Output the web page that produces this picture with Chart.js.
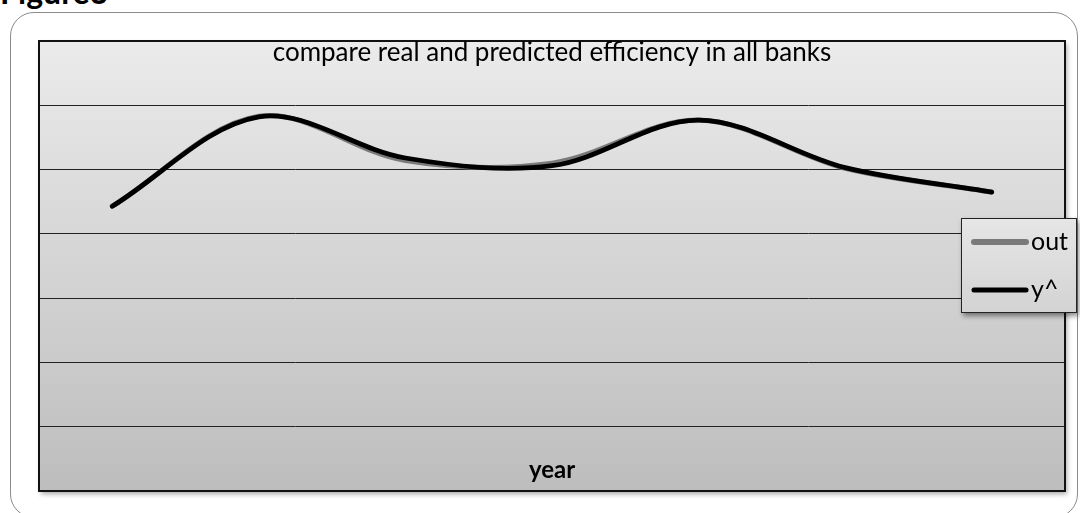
<!DOCTYPE html>
<html>
<head>
<meta charset="utf-8">
<script src="https://cdn.jsdelivr.net/npm/chart.js@4.4.1/dist/chart.umd.min.js"></script>
<style>
  html, body { margin: 0; padding: 0; background: #fff; }
  #wrap { position: relative; width: 1080px; height: 513px; overflow: hidden; }
  #frame {
    position: absolute; left: 10px; top: 12px; width: 1068px; height: 506px;
    border: 1px solid #8c8c8c; border-radius: 24px; box-sizing: border-box;
  }
  #figlabel {
    position: absolute; left: 0px; top: -24px; margin: 0;
    font: bold 32px/32px Lato, "Open Sans", sans-serif; color: #000;
  }
  canvas { position: absolute; left: 0; top: 0; }
</style>
</head>
<body>
<div id="wrap">
  <div id="frame"></div>
  <p id="figlabel">Figure3</p>
  <canvas id="chart" width="1080" height="513"></canvas>
</div>
<script>
// Seven yearly observations: real efficiency ("out") and model estimate ("y^")
const years = ['1', '2', '3', '4', '5', '6', '7'];
const outValues = [4.43, 5.83, 5.14, 5.10, 5.77, 5.02, 4.65];
const predValues = [4.43, 5.82, 5.18, 5.06, 5.77, 5.03, 4.65];
const seriesNames = ['out', 'y^'];
const chartTitle = 'compare real and predicted efficiency in all banks';
const axisTitle = 'year';

// Gradient plot background, frame and shadow behind the plot area
const plotFrame = {
  id: 'plotFrame',
  beforeDraw(chart) {
    const { ctx, chartArea: a } = chart;
    ctx.save();
    ctx.shadowColor = 'rgba(0,0,0,0.35)';
    ctx.shadowBlur = 5;
    ctx.shadowOffsetX = 2;
    ctx.shadowOffsetY = 3;
    const g = ctx.createLinearGradient(0, a.top, 0, a.bottom);
    g.addColorStop(0, '#ebebeb');
    g.addColorStop(1, '#bdbdbd');
    ctx.fillStyle = g;
    ctx.fillRect(a.left, a.top, a.right - a.left, a.bottom - a.top);
    ctx.restore();
  },
  afterDatasetsDraw(chart) {
    const { ctx, chartArea: a } = chart;
    ctx.save();
    ctx.strokeStyle = '#111';
    ctx.lineWidth = 2;
    ctx.strokeRect(a.left, a.top, a.right - a.left, a.bottom - a.top);
    ctx.restore();
  }
};

// Chart title and axis title placed inside the plot area
const innerTexts = {
  id: 'innerTexts',
  afterDraw(chart) {
    const { ctx, chartArea: a } = chart;
    const cx = (a.left + a.right) / 2;
    ctx.save();
    ctx.fillStyle = '#000';
    ctx.textAlign = 'center';
    ctx.textBaseline = 'alphabetic';
    ctx.font = '26px Lato, "Open Sans", sans-serif';
    ctx.fillText(chartTitle, cx, a.top + 20);
    ctx.font = 'bold 24px Lato, "Open Sans", sans-serif';
    ctx.fillText(axisTitle, cx, a.bottom - 13);
    ctx.restore();
  }
};

// Boxed legend overlapping the right edge of the plot
const boxLegend = {
  id: 'boxLegend',
  afterDraw(chart) {
    const { ctx } = chart;
    const x = 961, y = 218, w = 116, h = 95;
    ctx.save();
    ctx.shadowColor = 'rgba(0,0,0,0.45)';
    ctx.shadowBlur = 5;
    ctx.shadowOffsetX = 2;
    ctx.shadowOffsetY = 3;
    const g = ctx.createLinearGradient(0, y, 0, y + h);
    g.addColorStop(0, '#e6e6e6');
    g.addColorStop(1, '#d3d3d3');
    ctx.fillStyle = g;
    ctx.fillRect(x, y, w, h);
    ctx.restore();
    ctx.save();
    ctx.strokeStyle = '#222';
    ctx.lineWidth = 1;
    ctx.strokeRect(x + 0.5, y + 0.5, w - 1, h - 1);
    ctx.font = '25px Lato, "Open Sans", sans-serif';
    ctx.textBaseline = 'alphabetic';
    ctx.textAlign = 'left';
    const widths = [6, 5];
    chart.data.datasets.forEach((ds, i) => {
      const ly = y + 24 + i * 48;
      ctx.strokeStyle = ds.borderColor;
      ctx.lineWidth = widths[i];
      ctx.lineCap = 'round';
      ctx.beginPath();
      ctx.moveTo(x + 13, ly);
      ctx.lineTo(x + 65, ly);
      ctx.stroke();
      ctx.fillStyle = '#000';
      ctx.fillText(ds.label, x + 70, ly + 8);
    });
    ctx.restore();
  }
};

new Chart(document.getElementById('chart'), {
  type: 'line',
  data: {
    labels: years,
    datasets: [
      {
        label: seriesNames[0],
        data: outValues,
        borderColor: '#7a7a7a',
        borderWidth: 5,
        pointRadius: 0,
        tension: 0.34,
        borderCapStyle: 'round',
        order: 1
      },
      {
        label: seriesNames[1],
        data: predValues,
        borderColor: '#000000',
        borderWidth: 4.8,
        pointRadius: 0,
        tension: 0.34,
        borderCapStyle: 'round',
        order: 0
      }
    ]
  },
  options: {
    responsive: false,
    animation: false,
    layout: { padding: { left: 39, right: 15, top: 41, bottom: 22 } },
    plugins: {
      legend: { display: false },
      title: { display: false },
      tooltip: { enabled: false }
    },
    scales: {
      x: {
        offset: true,
        grid: { display: false, drawTicks: false },
        border: { display: false },
        ticks: { display: false }
      },
      y: {
        min: 0,
        max: 7,
        grid: { color: '#222', lineWidth: 1, drawTicks: false },
        border: { display: false },
        ticks: { display: false, stepSize: 1 }
      }
    }
  },
  plugins: [plotFrame, innerTexts, boxLegend]
});
</script>
</body>
</html>
